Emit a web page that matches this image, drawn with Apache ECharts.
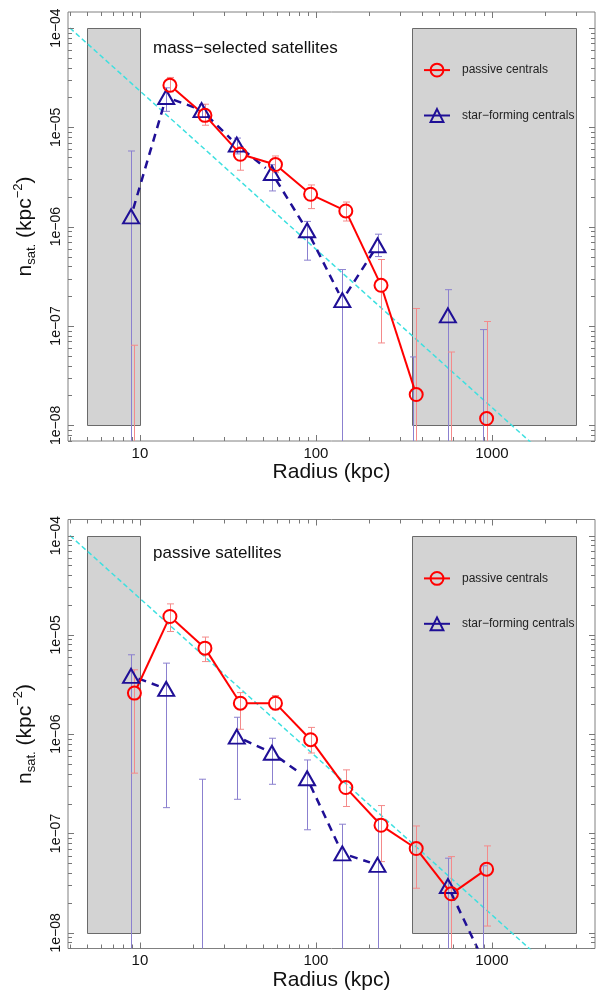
<!DOCTYPE html>
<html><head><meta charset="utf-8">
<script src="https://cdn.jsdelivr.net/npm/echarts@6/dist/echarts.min.js"></script>
<style>html,body{margin:0;padding:0;background:#fff}#chart{width:598px;height:992px}</style>
</head><body><div id="chart"></div>
<script>
// ---------- data ----------
const radiusPassive    = [9.3, 14.8, 23.4, 37.2, 58.9, 93.3, 147.9, 234.4, 371.5, 588.8, 933.3];
const radiusStarForming = [8.9, 14.1, 22.4, 35.5, 56.2, 89.1, 141.3, 223.9, 354.8, 562.3, 891.3];

// panel 1 : mass-selected satellites
const massPassive   = [null, 2.65e-5, 1.32e-5, 5.36e-6, 4.22e-6, 2.12e-6, 1.44e-6, 2.57e-7, 2.04e-8, null, 1.17e-8];
const massPassiveHi = [6.4e-8, 3.18e-5, 1.71e-5, 6.35e-6, 5.15e-6, 2.63e-6, 1.77e-6, 4.67e-7, 1.50e-7, 5.47e-8, 1.11e-7];
const massPassiveLo = [null, 2.28e-5, 1.05e-5, 3.70e-6, 3.5e-6, 1.52e-6, 1.14e-6, 6.75e-8, null, null, null];
const massSF        = [1.27e-6, 2.02e-5, 1.49e-5, 6.7e-6, 3.47e-6, 9.2e-7, 1.82e-7, 6.5e-7, null, 1.28e-7, null];
const massSFHi      = [5.78e-6, 2.5e-5, 1.7e-5, 7.8e-6, 4.2e-6, 1.13e-6, 3.7e-7, 8.4e-7, 4.88e-8, 2.32e-7, 9.2e-8];
const massSFLo      = [null, 1.45e-5, 1.26e-5, 5.4e-6, 2.29e-6, 4.6e-7, null, 5.0e-7, null, null, null];

// panel 2 : passive satellites
const passPassive   = [2.59e-6, 1.53e-5, 7.35e-6, 2.05e-6, 2.05e-6, 8.8e-7, 2.9e-7, 1.21e-7, 7.05e-8, 2.47e-8, 4.37e-8];
const passPassiveHi = [4.45e-6, 2.05e-5, 9.5e-6, 2.62e-6, 2.45e-6, 1.17e-6, 4.37e-7, 1.91e-7, 1.19e-7, 5.85e-8, 7.5e-8];
const passPassiveLo = [4.05e-7, 1.08e-5, 5.38e-6, 1.12e-6, 1.76e-6, 6.46e-7, 1.87e-7, 5.21e-8, 2.81e-8, null, 1.17e-8];
const passSF        = [3.86e-6, 2.86e-6, null, 9.46e-7, 6.5e-7, 3.6e-7, 6.3e-8, 4.83e-8, null, 2.96e-8, 5.3e-9];
const passSFHi      = [6.3e-6, 5.19e-6, 3.52e-7, 1.48e-6, 9.1e-7, 5.5e-7, 1.24e-7, 1.4e-7, null, 5.64e-8, 4.73e-8];
const passSFLo      = [null, 1.82e-7, null, 2.21e-7, 3.13e-7, 1.09e-7, null, null, null, null, null];

// reference power law (dashed cyan), end points
const fitRadius = [4, 1700];
const fitDensity = [1.0e-4, 6.5e-9];

// excluded radial ranges (grey boxes)
const boxRadiusMin = [5, 350];
const boxRadiusMax = [10, 3000];
const boxDensityMin = 1e-8;
const boxDensityMax = 1e-4;

// axes
const radiusRange = [3.9, 3855];
const densityRange = [6.95e-9, 1.45e-4];
const xMajorTicks = [10, 100, 1000];
const yMajorTicks = [1e-8, 1e-7, 1e-6, 1e-5, 1e-4];
const minorMult = [2, 3, 4, 5, 6, 7, 8, 9];

const panelTitles = ['mass\u2212selected satellites', 'passive satellites'];
const nameP = 'passive centrals';
const nameSF = 'star\u2212forming centrals';

// ---------- build ----------
const FONT = "'Liberation Sans', Arial, Helvetica, sans-serif";
const RED = '#ff0000', RED_ERR = '#f48a8a';
const NAVY = '#1f0f96', NAVY_ERR = '#8b80cf';
const CYAN = '#3ee0e0';

function inRange(v, r) { return v >= r[0] && v <= r[1]; }
const xMinorTicks = [], yMinorTicks = [];
[1, 10, 100, 1000].forEach(d => minorMult.forEach(m => { const v = m * d; if (inRange(v, radiusRange) && v !== 10 && v !== 100 && v !== 1000) xMinorTicks.push(v); }));
[1e-9, 1e-8, 1e-7, 1e-6, 1e-5, 1e-4].forEach(d => minorMult.forEach(m => { const v = m * d; if (inRange(v, densityRange)) yMinorTicks.push(v); }));

function isPow10(v) { const l = Math.log10(v); return Math.abs(l - Math.round(l)) < 1e-6; }
function fmtX(v) { return isPow10(v) ? String(Math.round(v)) : ''; }
function fmtY(v) {
  if (!isPow10(v)) return '';
  const e = Math.round(Math.log10(v));
  return '1e' + (e < 0 ? '\u2212' : '+') + String(Math.abs(e)).padStart(2, '0');
}

const panels = [
  { p: massPassive, pHi: massPassiveHi, pLo: massPassiveLo, s: massSF, sHi: massSFHi, sLo: massSFLo },
  { p: passPassive, pHi: passPassiveHi, pLo: passPassiveLo, s: passSF, sHi: passSFHi, sLo: passSFLo }
];

const gridTops = [12, 519.5];
const gridH = 429;

function segments(xs, ys) {
  const out = [];
  for (let i = 0; i < xs.length - 1; i++) {
    if (ys[i] != null && ys[i + 1] != null) out.push([xs[i], ys[i], xs[i + 1], ys[i + 1]]);
  }
  return out;
}
function points(xs, ys) { const o = []; xs.forEach((x, i) => { if (ys[i] != null) o.push([x, ys[i]]); }); return o; }
function errItems(xs, hi, lo) { const o = []; xs.forEach((x, i) => { if (hi[i] != null) o.push([x, hi[i], lo[i] == null ? -1 : lo[i]]); }); return o; }

function segRender(style, gap) {
  return function (params, api) {
    const a = api.coord([api.value(0), api.value(1)]);
    const b = api.coord([api.value(2), api.value(3)]);
    const dx = b[0] - a[0], dy = b[1] - a[1];
    const L = Math.hypot(dx, dy);
    if (L <= 2 * gap) return null;
    const ux = dx / L, uy = dy / L;
    return { type: 'line', shape: { x1: a[0] + ux * gap, y1: a[1] + uy * gap, x2: b[0] - ux * gap, y2: b[1] - uy * gap }, style: style };
  };
}
function errRender(color) {
  return function (params, api) {
    const cs = params.coordSys;
    const x = api.value(0), hi = api.value(1), lo = api.value(2);
    const t = api.coord([x, hi]);
    const px = Math.round(t[0]) + 0.5;
    const yb = lo > 0 ? api.coord([x, lo])[1] : cs.y + cs.height + 3;
    const st = { stroke: color, lineWidth: 1 };
    const ch = [
      { type: 'line', shape: { x1: px, y1: t[1], x2: px, y2: yb }, style: st },
      { type: 'line', shape: { x1: px - 3.5, y1: t[1], x2: px + 3.5, y2: t[1] }, style: st }
    ];
    if (lo > 0) ch.push({ type: 'line', shape: { x1: px - 3.5, y1: yb, x2: px + 3.5, y2: yb }, style: st });
    return { type: 'group', children: ch };
  };
}
function boxRender(params, api) {
  const a = api.coord([api.value(0), api.value(1)]);
  const b = api.coord([api.value(2), api.value(3)]);
  return { type: 'rect', shape: { x: Math.round(a[0]) + 0.5, y: Math.round(b[1]) + 0.5, width: Math.round(b[0] - a[0]), height: Math.round(a[1] - b[1]) },
    style: { fill: '#d3d3d3', stroke: '#6a6a6a', lineWidth: 1 } };
}
function xTickRender(params, api) {
  const cs = params.coordSys;
  const x = Math.round(api.coord([api.value(0), 1e-6])[0]) + 0.5;
  const len = api.value(2);
  const st = { stroke: '#777', lineWidth: 1 };
  return { type: 'group', children: [
    { type: 'line', shape: { x1: x, y1: cs.y + cs.height, x2: x, y2: cs.y + cs.height - len }, style: st },
    { type: 'line', shape: { x1: x, y1: cs.y, x2: x, y2: cs.y + len }, style: st }
  ] };
}
function yTickRender(params, api) {
  const cs = params.coordSys;
  const y = Math.round(api.coord([10, api.value(1)])[1]) + 0.5;
  const len = api.value(2);
  const st = { stroke: '#777', lineWidth: 1 };
  return { type: 'group', children: [
    { type: 'line', shape: { x1: cs.x, y1: y, x2: cs.x + len, y2: y }, style: st },
    { type: 'line', shape: { x1: cs.x + cs.width, y1: y, x2: cs.x + cs.width - len, y2: y }, style: st }
  ] };
}

const grid = [], xAxis = [], yAxis = [], series = [], legend = [], graphic = [];
panels.forEach((P, i) => {
  grid.push({ left: 68, top: gridTops[i], right: 0, height: gridH, show: true, borderColor: '#808080', borderWidth: 1, backgroundColor: 'transparent' });
  xAxis.push({ type: 'log', logBase: 10, gridIndex: i, min: radiusRange[0], max: radiusRange[1],
    axisLine: { show: false }, axisTick: { show: false }, splitLine: { show: false }, minorTick: { show: false },
    axisLabel: { formatter: fmtX, fontSize: 15, color: '#111', margin: 5, fontFamily: FONT },
    name: 'Radius (kpc)', nameLocation: 'middle', nameGap: 19,
    nameTextStyle: { fontSize: 21, color: '#111', fontFamily: FONT } });
  yAxis.push({ type: 'log', logBase: 10, gridIndex: i, min: densityRange[0], max: densityRange[1],
    axisLine: { show: false }, axisTick: { show: false }, splitLine: { show: false },
    axisLabel: { formatter: fmtY, rotate: 90, fontSize: 14, color: '#111', margin: 5, fontFamily: FONT },
    name: '{n|n}{s|sat.}{n| (kpc}{p|\u22122}{n|)}', nameLocation: 'middle', nameRotate: 90, nameGap: 30,
    nameTextStyle: { color: '#111', fontFamily: FONT, rich: {
      n: { fontSize: 21, lineHeight: 26, fontFamily: FONT, color: '#111' },
      s: { fontSize: 13, lineHeight: 13, verticalAlign: 'bottom', fontFamily: FONT, color: '#111' },
      p: { fontSize: 13, lineHeight: 13, verticalAlign: 'top', fontFamily: FONT, color: '#111' } } } });

  // grey boxes
  series.push({ type: 'custom', xAxisIndex: i, yAxisIndex: i, z: 1, silent: true, clip: true,
    data: boxRadiusMin.map((r, k) => [r, boxDensityMin, boxRadiusMax[k], boxDensityMax]),
    encode: { x: [0, 2], y: [1, 3] }, renderItem: boxRender });
  // cyan power-law
  series.push({ type: 'line', xAxisIndex: i, yAxisIndex: i, z: 2, silent: true, clip: true, symbol: 'none',
    data: fitRadius.map((r, k) => [r, fitDensity[k]]),
    lineStyle: { color: CYAN, width: 1.5, type: [5, 3] } });
  // error bars
  series.push({ type: 'custom', xAxisIndex: i, yAxisIndex: i, z: 3, silent: true, clip: true,
    data: errItems(radiusStarForming, P.sHi, P.sLo), encode: { x: 0, y: 1 }, renderItem: errRender(NAVY_ERR) });
  series.push({ type: 'custom', xAxisIndex: i, yAxisIndex: i, z: 3, silent: true, clip: true,
    data: errItems(radiusPassive, P.pHi, P.pLo), encode: { x: 0, y: 1 }, renderItem: errRender(RED_ERR) });
  // connecting lines (with gaps at markers)
  series.push({ type: 'custom', xAxisIndex: i, yAxisIndex: i, z: 4, silent: true, clip: true,
    data: segments(radiusStarForming, P.s), encode: { x: [0, 2], y: [1, 3] },
    renderItem: segRender({ stroke: NAVY, lineWidth: 2.5, lineDash: [8, 6] }, 8) });
  series.push({ type: 'custom', xAxisIndex: i, yAxisIndex: i, z: 4, silent: true, clip: true,
    data: segments(radiusPassive, P.p), encode: { x: [0, 2], y: [1, 3] },
    renderItem: segRender({ stroke: RED, lineWidth: 2 }, 6.5) });
  // markers
  series.push({ name: nameSF, type: 'line', xAxisIndex: i, yAxisIndex: i, z: 5, silent: true, clip: true,
    data: points(radiusStarForming, P.s), symbol: 'triangle', symbolSize: [16, 14],
    itemStyle: { color: 'rgba(0,0,0,0)', borderColor: NAVY, borderWidth: 2 },
    lineStyle: { width: 0, color: NAVY } });
  series.push({ name: nameP, type: 'line', xAxisIndex: i, yAxisIndex: i, z: 5, silent: true, clip: true,
    data: points(radiusPassive, P.p), symbol: 'circle', symbolSize: 13,
    itemStyle: { color: 'rgba(0,0,0,0)', borderColor: RED, borderWidth: 2 },
    lineStyle: { width: 0, color: RED } });
  // ticks
  series.push({ type: 'custom', xAxisIndex: i, yAxisIndex: i, z: 6, silent: true,
    data: xMinorTicks.map(v => [v, 1e-6, 4]).concat(xMajorTicks.map(v => [v, 1e-6, 6])),
    encode: { x: 0, y: 1 }, renderItem: xTickRender });
  series.push({ type: 'custom', xAxisIndex: i, yAxisIndex: i, z: 6, silent: true,
    data: yMinorTicks.map(v => [10, v, 4]).concat(yMajorTicks.map(v => [10, v, 6])),
    encode: { x: 0, y: 1 }, renderItem: yTickRender });

  legend.push({ orient: 'vertical', left: 423, top: [62.7, 571][i], padding: 0, itemWidth: 26, itemHeight: 16, itemGap: 30.6,
    selectedMode: false, data: [nameP, nameSF],
    textStyle: { fontSize: 12, color: '#222', fontFamily: FONT, padding: [0, 0, 0, 7] },
    lineStyle: { width: 2, type: 'solid' } });
  graphic.push({ type: 'text', left: 153, top: [39.5, 544.5][i], z: 10,
    style: { text: panelTitles[i], fontSize: 17, fill: '#111', fontFamily: FONT } });
});

const chart = echarts.init(document.getElementById('chart'), null, { renderer: 'canvas' });
chart.setOption({ animation: false, backgroundColor: '#fff', grid, xAxis, yAxis, series, legend, graphic });
</script></body></html>
